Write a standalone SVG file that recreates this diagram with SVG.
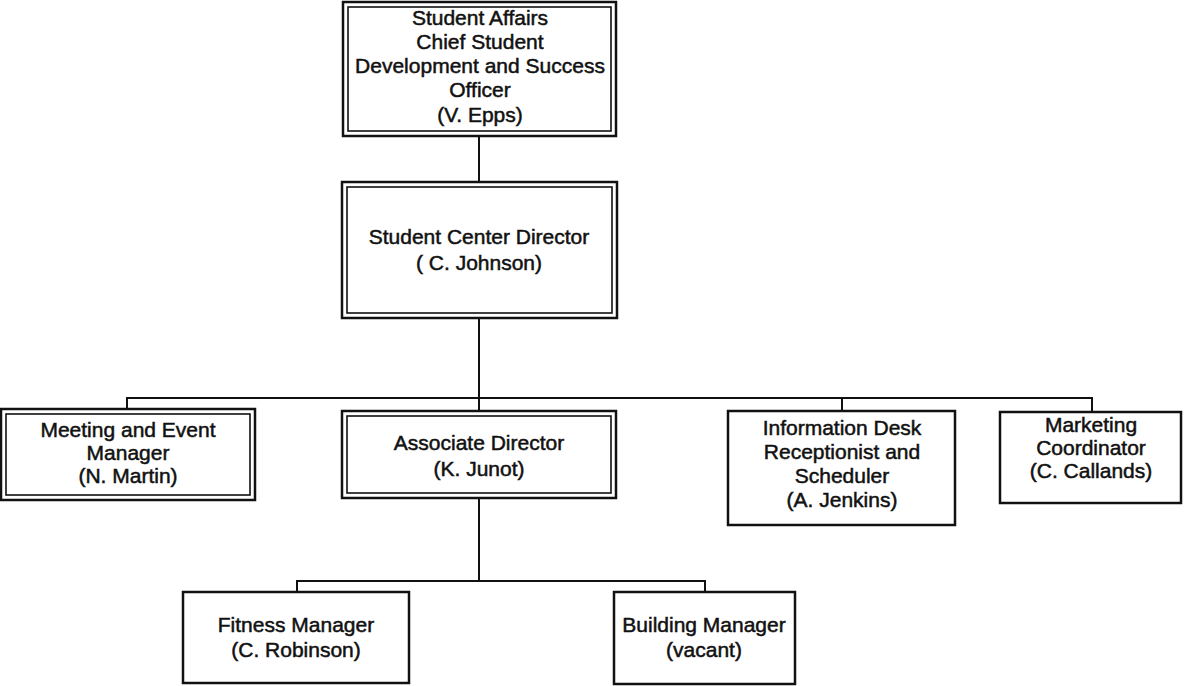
<svg xmlns="http://www.w3.org/2000/svg" width="1186" height="686" viewBox="0 0 1186 686">
<style>
.o{fill:none;stroke:#111;stroke-width:2.5}
.i{fill:none;stroke:#111;stroke-width:1.6}
.s{fill:none;stroke:#111;stroke-width:2.5}
.c{fill:none;stroke:#111;stroke-width:2}
text{font-family:"Liberation Sans",Arial,sans-serif;font-size:21px;fill:#111;text-anchor:middle;stroke:#111;stroke-width:0.5}
</style>
<rect width="1186" height="686" fill="#fff"/>
<g id="connectors">
<path class="c" d="M479 136V182"/>
<path class="c" d="M479 318V411"/>
<path class="c" d="M127 409V398H1092V412"/>
<path class="c" d="M842 398V411"/>
<path class="c" d="M479 498V581"/>
<path class="c" d="M297 592V581H705V592"/>
</g>
<g id="n-chief">
<rect class="o" x="343" y="2" width="273" height="134"/>
<rect class="i" x="348" y="7" width="263" height="124"/>
<text x="480" y="25">Student Affairs</text>
<text x="480" y="49">Chief Student</text>
<text x="480" y="73">Development and Success</text>
<text x="480" y="97">Officer</text>
<text x="480" y="122">(V. Epps)</text>
</g>
<g id="n-director">
<rect class="o" x="342" y="182" width="275" height="136"/>
<rect class="i" x="347" y="187" width="265" height="126"/>
<text x="479" y="244">Student Center Director</text>
<text x="479" y="270">( C. Johnson)</text>
</g>
<g id="n-meeting">
<rect class="o" x="1" y="409" width="254" height="91"/>
<rect class="i" x="6" y="414" width="244" height="81"/>
<text x="128" y="437">Meeting and Event</text>
<text x="128" y="460">Manager</text>
<text x="128" y="483">(N. Martin)</text>
</g>
<g id="n-associate">
<rect class="o" x="342" y="411" width="274" height="87"/>
<rect class="i" x="347" y="416" width="264" height="77"/>
<text x="479" y="450">Associate Director</text>
<text x="479" y="476">(K. Junot)</text>
</g>
<g id="n-info">
<rect class="s" x="728" y="411" width="227" height="114"/>
<text x="842" y="435">Information Desk</text>
<text x="842" y="459">Receptionist and</text>
<text x="842" y="483">Scheduler</text>
<text x="842" y="507">(A. Jenkins)</text>
</g>
<g id="n-marketing">
<rect class="s" x="1000" y="412" width="181" height="91"/>
<text x="1091" y="432">Marketing</text>
<text x="1091" y="455">Coordinator</text>
<text x="1091" y="478">(C. Callands)</text>
</g>
<g id="n-fitness">
<rect class="s" x="183" y="592" width="226" height="91"/>
<text x="296" y="632">Fitness Manager</text>
<text x="296" y="657">(C. Robinson)</text>
</g>
<g id="n-building">
<rect class="s" x="614" y="592" width="181" height="92"/>
<text x="704" y="632">Building Manager</text>
<text x="704" y="657">(vacant)</text>
</g>
</svg>
